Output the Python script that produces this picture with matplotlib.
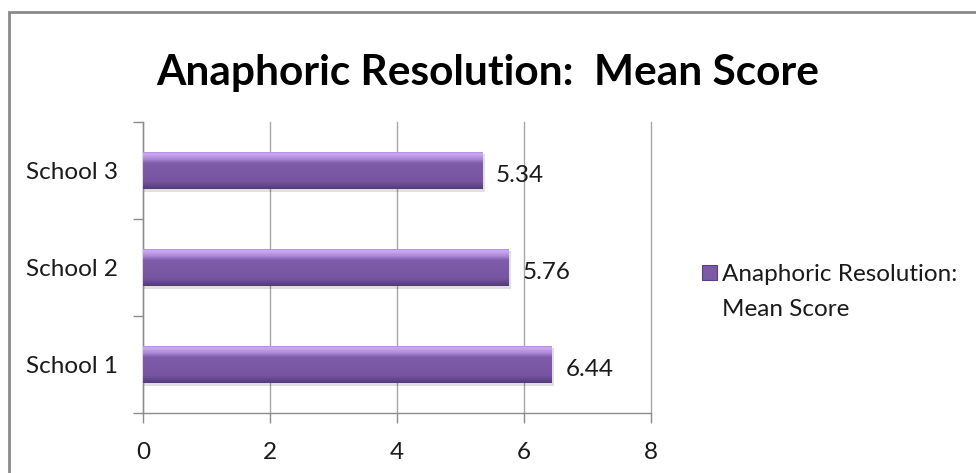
import matplotlib

matplotlib.use("Agg")
import matplotlib.pyplot as plt
import numpy as np
from matplotlib.colors import LinearSegmentedColormap, to_rgb
from matplotlib.patches import Rectangle

# Chart data
schools = ["School 1", "School 2", "School 3"]
mean_scores = [6.44, 5.76, 5.34]
x_ticks = [0, 2, 4, 6, 8]
series_name = "Anaphoric Resolution:\nMean Score"
title = "Anaphoric Resolution:  Mean Score"

# Style
FONT = ["Lato", "DejaVu Sans"]
TEXT_COLOR = "#1a1a1a"
AXIS_COLOR = "#8c8c8c"
GRID_COLOR = "#a6a6a6"
BORDER_COLOR = "#8a8a8a"
BAR_MAIN = "#7b5aa6"
LABEL_SIZE = 17.5
# vertical bevel gradient, top -> bottom
BAR_STOPS = [
    (0.00, "#9a76c8"),
    (0.07, "#cfaaf6"),
    (0.22, "#a884d4"),
    (0.32, "#7e5caa"),
    (0.80, "#7655a0"),
    (1.00, "#533a78"),
]

plt.rcParams["font.family"] = FONT

fig = plt.figure(figsize=(9.76, 4.73), dpi=100, facecolor="white")
ax = fig.add_axes([143 / 976, 60 / 473, 508 / 976, 291 / 473])

y_pos = np.arange(len(schools))
bars = ax.barh(y_pos, mean_scores, height=0.39, color=BAR_MAIN, edgecolor="none", zorder=3)

# gradient fill clipped to each bar
grad_cmap = LinearSegmentedColormap.from_list("bevel", [(p, to_rgb(c)) for p, c in BAR_STOPS])
grad = np.linspace(0, 1, 256).reshape(-1, 1)
for bar in bars:
    x0, y0 = bar.get_x(), bar.get_y()
    w, h = bar.get_width(), bar.get_height()
    im = ax.imshow(
        grad,
        cmap=grad_cmap,
        extent=[x0, x0 + w, y0, y0 + h],
        origin="upper",
        aspect="auto",
        zorder=4,
        interpolation="bilinear",
    )
    im.set_clip_path(bar)
    # faint drop shadow
    ax.add_patch(
        Rectangle((x0, y0 - 0.025), w + 0.04, h, facecolor="#000000", alpha=0.12,
                  edgecolor="none", zorder=2)
    )

# value labels
for yi, v in zip(y_pos, mean_scores):
    ax.annotate(
        f"{v:.2f}",
        (v, yi),
        xytext=(10, -2),
        textcoords="offset points",
        va="center_baseline",
        ha="left",
        fontsize=LABEL_SIZE,
        color=TEXT_COLOR,
        zorder=6,
    )

ax.set_xlim(0, 8)
ax.set_ylim(-0.5, len(schools) - 0.5)
ax.set_xticks(x_ticks)
ax.set_xticklabels([str(t) for t in x_ticks])
ax.set_yticks(y_pos)
ax.set_yticklabels(schools)
ax.set_yticks(np.arange(-0.5, len(schools), 1.0), minor=True)

ax.grid(axis="x", color=GRID_COLOR, linewidth=1.0, zorder=0)
for gl in ax.get_xgridlines():
    gl.set_clip_on(False)
ax.set_axisbelow(True)

for side in ["top", "right"]:
    ax.spines[side].set_visible(False)
for side in ["left", "bottom"]:
    ax.spines[side].set_color(AXIS_COLOR)
    ax.spines[side].set_linewidth(1.0)

ax.tick_params(axis="x", direction="out", length=7, width=1, color=AXIS_COLOR,
               labelsize=LABEL_SIZE, labelcolor=TEXT_COLOR, pad=14)
ax.tick_params(axis="y", which="major", length=0, labelsize=LABEL_SIZE,
               labelcolor=TEXT_COLOR, pad=18)
ax.tick_params(axis="y", which="minor", direction="out", length=7, width=1, color=AXIS_COLOR)

# title
fig.text(0.5, (473 - 85) / 473, title, ha="center", va="baseline",
         fontsize=30.5, fontweight="bold", color="#000000")

# legend
fig.patches.append(
    Rectangle((702 / 976, (473 - 280) / 473), 15 / 976, 15 / 473, transform=fig.transFigure,
              facecolor=BAR_MAIN, edgecolor="#5a3f80", linewidth=0.8)
)
fig.text(722 / 976, (473 - 316) / 473, series_name, ha="left", va="baseline",
         fontsize=LABEL_SIZE, color=TEXT_COLOR, linespacing=1.8)

# chart area border
fig.patches.append(
    Rectangle((9 / 976, -0.1), 1.2, (473 - 12) / 473 + 0.1, transform=fig.transFigure,
              facecolor="none", edgecolor=BORDER_COLOR, linewidth=2.0, clip_on=False)
)

fig.savefig("out.png", dpi=100, facecolor="white")
